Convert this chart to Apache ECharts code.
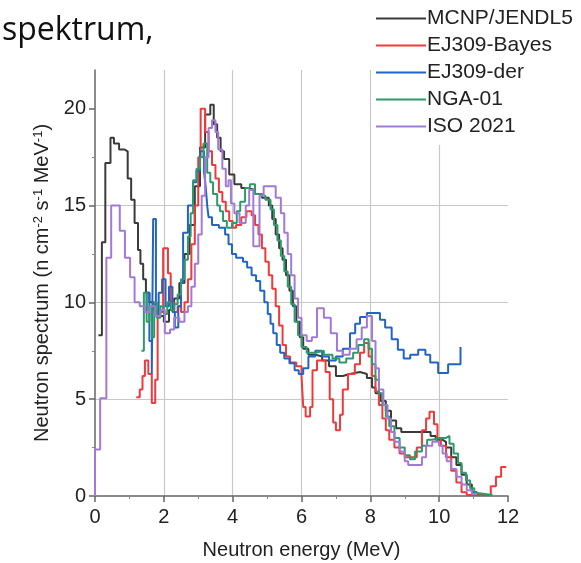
<!DOCTYPE html>
<html>
<head>
<meta charset="utf-8">
<script src="https://cdn.jsdelivr.net/npm/echarts@6/dist/echarts.min.js"></script>
<style>
	html, body { margin: 0; padding: 0; background: #fff; }
	#chart { width: 581px; height: 563px; }
</style>
</head>
<body>
<div id="chart"></div>
<script>
// energy bin edges (MeV) and spectrum values for each curve
const mcnpE = [0.10,0.20,0.30,0.45,0.55,0.70,0.85,0.95,1.05,1.15,1.25,1.32,1.40,1.48,1.58,1.70,1.85,2.00,2.15,2.30,2.45,2.60,2.75,2.90,3.05,3.20,3.35,3.45,3.55,3.65,3.75,3.90,4.05,4.25,4.45,4.65,4.85,5.05,5.15,5.25,5.35,5.45,5.55,5.65,5.75,5.85,5.95,6.05,6.20,6.40,6.60,6.80,7.00,7.20,7.40,7.70,7.90,8.05,8.15,8.30,8.45,8.60,8.75,8.90,9.75,9.90,10.10,10.20,10.35,10.50,10.65,10.80,10.95,11.10,11.30]
const mcnpV = [8.3,13.1,17.2,18.5,18.2,17.9,17.8,16.4,15.3,14.1,12.7,12.0,11.2,10.5,10.0,9.6,9.3,9.0,9.6,10.2,11.0,12.5,14.0,16.0,18.0,19.7,20.2,19.2,18.5,17.8,17.4,16.6,16.1,15.9,15.8,15.6,15.4,15.0,14.3,13.5,12.8,12.2,11.4,10.6,9.8,9.0,8.2,7.6,7.3,7.2,7.0,6.7,6.2,6.3,6.4,6.3,6.1,5.6,5.3,4.9,4.4,3.9,3.5,3.3,3.1,2.9,2.8,2.5,2.0,1.6,1.1,0.6,0.2,0.05,0.05]

const bayesE = [1.20,1.30,1.38,1.45,1.55,1.65,1.75,1.82,1.98,2.12,2.20,2.30,2.40,2.50,2.60,2.70,2.80,2.90,3.00,3.07,3.20,3.30,3.40,3.50,3.60,3.70,3.80,3.90,4.00,4.10,4.25,4.40,4.55,4.65,4.75,4.85,4.95,5.05,5.15,5.25,5.35,5.45,5.55,5.67,5.85,6.00,6.05,6.12,6.25,6.32,6.45,6.70,6.82,6.92,7.00,7.12,7.20,7.35,7.55,7.70,7.82,7.95,8.05,8.15,8.25,8.35,8.45,8.55,8.70,8.85,9.00,9.15,9.35,9.50,9.62,9.72,9.85,9.95,10.05,10.20,10.35,10.50,10.65,10.80,11.50,11.65,11.80,11.95]
const bayesV = [5.1,5.5,6.2,7.0,6.3,4.8,6.0,9.5,12.8,11.5,10.0,9.5,9.8,9.5,10.0,11.2,13.0,15.0,17.5,20.0,18.8,17.8,17.1,16.4,15.7,15.2,14.7,14.2,13.85,14.0,14.4,14.7,14.5,14.0,13.5,12.8,12.1,11.4,10.7,9.8,8.8,7.8,7.2,6.9,6.7,6.2,4.6,4.1,4.6,6.5,7.0,6.4,5.0,3.8,3.4,4.2,5.5,6.3,6.8,7.4,7.9,7.2,6.2,5.4,4.7,4.0,3.4,2.9,2.5,2.2,2.0,2.0,2.5,3.4,4.0,4.35,3.7,3.0,2.6,2.0,1.3,0.7,0.2,0.05,0.5,1.0,1.5,1.5]

const derE = [1.40,1.50,1.58,1.65,1.69,1.77,1.85,1.95,2.05,2.15,2.25,2.32,2.42,2.50,2.56,2.70,2.85,2.95,3.05,3.17,3.22,3.26,3.30,3.40,3.60,3.78,3.88,3.98,4.10,4.30,4.42,4.55,4.68,4.80,4.92,5.02,5.10,5.18,5.28,5.38,5.50,5.65,5.80,5.92,6.05,6.20,6.40,6.60,6.80,7.00,7.20,7.41,7.56,7.70,7.90,8.28,8.43,8.62,8.80,8.97,9.16,9.39,9.60,9.74,9.97,10.26,10.62]
const derV = [9.5,10.5,8.0,6.3,14.3,9.5,10.5,11.2,9.8,10.8,9.5,8.7,9.8,11.0,13.6,15.0,16.2,16.8,17.8,16.7,15.9,15.0,14.4,14.0,13.85,13.5,13.0,12.5,12.3,12.1,11.8,11.4,11.1,10.6,10.0,9.4,8.9,8.4,7.8,7.4,7.1,6.85,6.5,6.3,6.6,7.2,7.5,7.2,7.0,7.2,7.6,8.4,8.9,9.25,9.45,9.1,8.7,8.1,7.55,7.1,7.3,7.55,7.3,6.9,6.35,6.8,7.7]

const ngaE = [1.35,1.42,1.50,1.58,1.65,1.72,1.80,1.90,2.00,2.10,2.20,2.30,2.40,2.50,2.60,2.70,2.78,2.85,2.95,3.05,3.15,3.26,3.35,3.43,3.55,3.63,3.72,3.83,3.98,4.12,4.22,4.36,4.50,4.65,4.80,4.95,5.10,5.20,5.30,5.40,5.50,5.60,5.70,5.80,5.90,6.00,6.15,6.40,6.65,6.90,7.10,7.30,7.50,7.65,7.82,7.95,8.05,8.15,8.25,8.35,8.45,8.55,8.70,8.85,9.00,9.15,9.30,9.50,9.65,9.80,10.05,10.20,10.30,10.42,10.55,10.65,10.78,10.90,11.02,11.10,11.55]
const ngaV = [7.5,10.5,9.0,9.8,8.2,10.0,9.2,9.8,9.4,10.0,9.6,9.9,10.4,11.2,12.2,13.4,14.6,16.3,16.9,17.5,18.2,16.7,16.2,15.6,15.0,14.7,14.2,13.85,14.1,14.7,15.2,15.9,16.1,15.6,15.5,15.3,14.8,14.0,13.2,12.4,11.6,10.8,9.9,9.0,8.3,7.7,7.4,7.5,7.3,7.1,6.9,7.1,7.4,7.8,8.1,7.6,6.8,6.0,5.3,4.7,4.1,3.6,3.0,2.5,2.1,1.9,2.3,2.6,2.9,3.0,3.0,3.1,2.7,2.2,1.7,1.2,0.8,0.4,0.15,0.05,0.05]

const isoE = [0.00,0.00,0.15,0.33,0.47,0.72,0.87,1.02,1.15,1.30,1.45,1.60,1.75,1.90,2.03,2.18,2.30,2.45,2.60,2.70,2.80,2.90,3.00,3.10,3.20,3.30,3.40,3.50,3.58,3.70,3.80,3.88,3.95,4.05,4.20,4.38,4.48,4.60,4.78,4.90,5.25,5.40,5.50,5.60,5.70,5.80,5.90,6.00,6.15,6.30,6.45,6.65,6.85,7.03,7.20,7.40,7.60,7.75,7.90,8.05,8.15,8.25,8.38,8.50,8.60,8.70,8.85,9.00,9.10,9.50,9.62,9.80,10.00,10.10,10.22,10.35,10.50,10.65,10.80,10.95,11.10]
const isoV = [0,2.4,5.05,12.3,15.0,13.7,12.3,11.3,10.0,9.8,9.5,9.8,9.3,9.6,8.4,8.6,9.2,9.0,9.5,9.8,10.8,12.0,13.5,15.5,17.5,19.0,19.4,18.8,17.9,16.9,16.0,16.3,15.1,14.6,14.1,15.0,15.8,12.9,15.5,16.0,15.4,14.6,13.6,12.5,11.4,10.2,9.2,8.3,8.0,8.2,9.7,9.2,8.4,7.5,7.3,7.6,8.1,8.7,9.3,8.0,6.6,5.5,4.7,4.0,3.3,2.8,2.3,1.8,1.6,2.0,2.6,2.8,2.6,2.2,1.8,1.4,1.0,0.6,0.3,0.1,0.1]

const seriesNames = ['MCNP/JENDL5', 'EJ309-Bayes', 'EJ309-der', 'NGA-01', 'ISO 2021']
const seriesColors = ['#3a3a3a', '#ee3a3a', '#2263c6', '#2e9a6c', '#a27ad6']
const yTicks = [0, 5, 10, 15, 20]

const font = 'Liberation Sans'

function pairs(xs, ys) {
	return xs.map((x, i) => [x, ys[i]])
}

const dataSets = [pairs(mcnpE, mcnpV), pairs(bayesE, bayesV), pairs(derE, derV), pairs(ngaE, ngaV), pairs(isoE, isoV)]

const chart = echarts.init(document.getElementById('chart'))
chart.setOption({
	backgroundColor: '#fff',
	animation: false,
	graphic: [{
		type: 'text',
		left: 2,
		top: 15,
		style: { text: 'spektrum,', font: '32px "Open Sans"', fill: '#111' }
	}],
	legend: {
		orient: 'vertical',
		left: 372,
		top: 4,
		icon: 'rect',
		itemWidth: 50,
		itemHeight: 2,
		itemGap: 6,
		padding: [4, 4, 8, 4],
		backgroundColor: '#fff',
		data: seriesNames,
		textStyle: { fontFamily: font, fontSize: 21, color: '#222', padding: [0, 0, 0, -4] }
	},
	grid: { left: 95, right: 73, top: 70, bottom: 67, outerBoundsMode: 'none' },
	xAxis: {
		type: 'value',
		min: 0,
		max: 12,
		interval: 2,
		name: 'Neutron energy (MeV)',
		nameLocation: 'middle',
		nameGap: 44,
		nameTextStyle: { fontFamily: font, fontSize: 20, color: '#222' },
		axisLine: { lineStyle: { color: '#666', width: 1.5 } },
		axisTick: { length: 6, lineStyle: { color: '#666', width: 1.5 } },
		minorTick: { show: true, splitNumber: 2, length: 3, lineStyle: { color: '#888' } },
		axisLabel: { fontFamily: font, fontSize: 20, color: '#222', margin: 11 },
		splitLine: { show: true, showMinLine: false, showMaxLine: false, lineStyle: { color: '#c8c8c8', width: 1.2 } }
	},
	yAxis: {
		type: 'value',
		min: 0,
		max: 22,
		interval: 5,
		name: '{t|Neutron spectrum (n cm}{s|-2}{t| s}{s|-1}{t| MeV}{s|-1}{t|)}',
		nameLocation: 'middle',
		nameGap: 34,
		nameTextStyle: {
			rich: {
				t: { fontFamily: font, fontSize: 20, color: '#222' },
				s: { fontFamily: font, fontSize: 13, color: '#222', padding: [0, 0, 9, 0] }
			}
		},
		axisLine: { show: true, lineStyle: { color: '#666', width: 1.5 } },
		axisTick: { show: true, length: 6, customValues: yTicks, lineStyle: { color: '#666', width: 1.5 } },
		minorTick: { show: true, splitNumber: 2, length: 3, lineStyle: { color: '#888' } },
		axisLabel: { fontFamily: font, fontSize: 20, color: '#222', margin: 9, customValues: yTicks },
		splitLine: { show: true, showMinLine: false, showMaxLine: false, lineStyle: { color: '#c8c8c8', width: 1.2 } }
	},
	series: seriesNames.map((name, i) => ({
		type: 'line',
		name: name,
		step: 'end',
		symbol: 'none',
		data: dataSets[i],
		color: seriesColors[i],
		lineStyle: { width: 2 }
	}))
})
</script>
</body>
</html>
